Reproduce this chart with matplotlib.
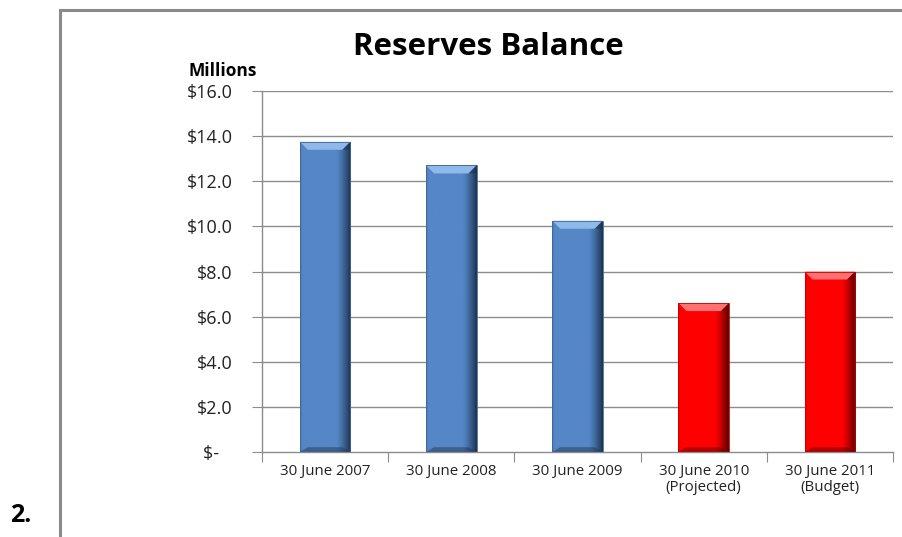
import numpy as np
import matplotlib
matplotlib.use("Agg")
import matplotlib.pyplot as plt
from matplotlib.patches import Polygon, Rectangle
from matplotlib.lines import Line2D
from matplotlib.colors import to_rgb

categories = ["30 June 2007", "30 June 2008", "30 June 2009",
              "30 June 2010\n(Projected)", "30 June 2011\n(Budget)"]
values = [13.75, 12.7, 10.25, 6.6, 8.0]
bar_kinds = ["actual", "actual", "actual", "forecast", "forecast"]
y_ticks = [0, 2, 4, 6, 8, 10, 12, 14, 16]
y_tick_labels = ["$-   "] + [f"${t:.1f}" for t in y_ticks[1:]]

palette = {
    "actual": dict(base="#5586c6", light="#8fb9ea", dark="#1c3250", edge="#3f6797"),
    "forecast": dict(base="#ff0000", light="#ff7070", dark="#5a0000", edge="#c80000"),
}

W, H, DPI = 902, 537, 100
fig = plt.figure(figsize=(W / DPI, H / DPI), dpi=DPI)
fig.patch.set_facecolor("white")

# outer frame lines
fig.add_artist(Line2D([60 / W, 60 / W], [0, 1 - 10 / H], transform=fig.transFigure,
                      color="#8a8a8a", lw=2.2))
fig.add_artist(Line2D([60 / W, 1], [1 - 10 / H, 1 - 10 / H], transform=fig.transFigure,
                      color="#8a8a8a", lw=2.2))

ax_l, ax_r, ax_b, ax_t = 262, 893, 452, 91
ax = fig.add_axes([ax_l / W, 1 - ax_b / H, (ax_r - ax_l) / W, (ax_b - ax_t) / H])
font = "Open Sans"

n = len(categories)
x = np.arange(n)
ax.set_xlim(-0.5, n - 0.5)
ax.set_ylim(0, 16)

grid_c = "#8c8c8c"
for t in y_ticks[1:]:
    ax.axhline(t, color=grid_c, lw=1.0, zorder=0)

bar_w = 0.4
px_x = n / (ax_r - ax_l)         # data units per pixel in x
px_y = 16 / (ax_b - ax_t)        # data units per pixel in y
bw = 8 * px_x
bh = 8 * px_y

for xi, v, kind in zip(x, values, bar_kinds):
    c = palette[kind]
    x0, x1 = xi - bar_w / 2, xi + bar_w / 2
    base = np.array(to_rgb(c["base"]))
    dark = np.array(to_rgb(c["dark"]))
    edge = np.array(to_rgb(c["edge"]))
    # horizontal shading across the bar face
    t = np.linspace(0, 1, 200)
    prof = np.zeros((200, 3))
    for i, ti in enumerate(t):
        if ti < 0.05:
            k = (0.05 - ti) / 0.05
            prof[i] = base * (1 - 0.5 * k) + edge * 0.5 * k
        elif ti < 0.72:
            prof[i] = base
        else:
            k = ((ti - 0.72) / 0.28) ** 1.3
            prof[i] = base * (1 - k) + dark * k
    img = prof[np.newaxis, :, :]
    rect = Rectangle((x0, 0), bar_w, v, transform=ax.transData)
    im = ax.imshow(img, extent=(x0, x1, 0, v), aspect="auto", zorder=2,
                   interpolation="bilinear")
    im.set_clip_path(rect)
    # top bevel
    top = Polygon([(x0, v), (x1, v), (x1 - bw, v - bh), (x0 + bw, v - bh)],
                  closed=True, facecolor=c["light"], edgecolor="none", zorder=3)
    ax.add_patch(top)
    # right corner of the top bevel
    topr = Polygon([(x1, v), (x1 - bw, v - bh), (x1, v - bh)],
                   closed=True, facecolor=c["dark"], alpha=0.55, edgecolor="none", zorder=3)
    ax.add_patch(topr)
    # bottom bevel
    bot = Polygon([(x0, 0), (x1, 0), (x1 - bw, bh * 0.6), (x0 + bw, bh * 0.6)],
                  closed=True, facecolor=c["dark"], alpha=0.45, edgecolor="none", zorder=3)
    ax.add_patch(bot)
    # thin outline
    ax.add_patch(Rectangle((x0, 0), bar_w, v, facecolor="none",
                           edgecolor=c["edge"], lw=0.6, zorder=4))

# axes styling
for s in ["top", "right"]:
    ax.spines[s].set_visible(False)
ax.spines["left"].set_color(grid_c)
ax.spines["bottom"].set_color(grid_c)
ax.spines["left"].set_linewidth(1.0)
ax.spines["bottom"].set_linewidth(1.0)

ax.set_yticks(y_ticks)
ax.set_yticklabels(y_tick_labels, fontfamily=font, fontsize=13, color="#222222")
ax.tick_params(axis="y", length=7, color=grid_c, pad=14)

ax.set_xticks(np.arange(n + 1) - 0.5)
ax.set_xticklabels([])
ax.tick_params(axis="x", length=7, color=grid_c)
ax.set_xticks(x, minor=True)
ax.set_xticklabels(categories, minor=True, fontfamily=font, fontsize=10.8,
                   color="#222222", linespacing=1.05)
ax.tick_params(axis="x", which="minor", length=0, pad=9)

fig.text(488 / W, 1 - 47 / H, "Reserves Balance", fontfamily=font, fontweight="bold",
         fontsize=22.5, ha="center", va="center", color="black")
fig.text(188 / W, 1 - 71 / H, "Millions", fontfamily=font, fontweight="bold",
         fontsize=12.5, ha="left", va="center", color="black")
fig.text(10 / W, 1 - 515 / H, "2.", fontfamily=font, fontweight="bold",
         fontsize=18, ha="left", va="center", color="black")

fig.savefig("out.png", dpi=DPI)
